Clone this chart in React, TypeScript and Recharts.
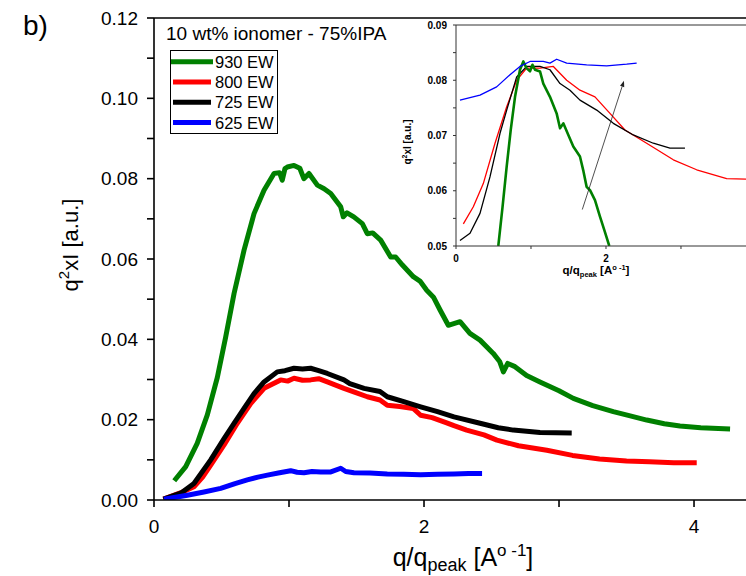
import { LineChart, Line, XAxis, YAxis, Legend, ReferenceLine } from 'recharts';

const FONT = '"Liberation Sans", Arial, Helvetica, sans-serif';

type Pt = [number, number];

// series labels + colours (legend order = draw order in the main plot)
const SERIES_NAMES = ['930 EW', '800 EW', '725 EW', '625 EW'];
const SERIES_COLORS = ['#008000', '#ff0000', '#000000', '#0000ff'];

const MAIN_X_TICKS = [0, 1, 2, 3, 4];
const MAIN_Y_TICKS = [0, 0.01, 0.02, 0.03, 0.04, 0.05, 0.06, 0.07, 0.08, 0.09, 0.1, 0.11, 0.12];
const INSET_X_TICKS = [0, 1, 2, 3];
const INSET_Y_TICKS = [0.05, 0.055, 0.06, 0.065, 0.07, 0.075, 0.08, 0.085, 0.09];

// main plot, [q/qpeak, q^2 x I]
const MAIN_930: Pt[] = [
  [0.15, 0.0048], [0.235, 0.0083], [0.32, 0.0141], [0.395, 0.0212], [0.469, 0.0305],
  [0.531, 0.0406], [0.593, 0.0514], [0.667, 0.0622], [0.741, 0.0713], [0.815, 0.0771],
  [0.889, 0.0813], [0.93, 0.0815], [0.95, 0.0796], [0.97, 0.0825], [0.988, 0.0829],
  [1.037, 0.0833], [1.08, 0.0826], [1.11, 0.08], [1.148, 0.0813], [1.21, 0.0784],
  [1.26, 0.0775], [1.309, 0.0763], [1.383, 0.073], [1.402, 0.0705], [1.43, 0.0715],
  [1.48, 0.0705], [1.543, 0.0688], [1.58, 0.0663], [1.62, 0.0665], [1.679, 0.0647],
  [1.753, 0.0605], [1.79, 0.0605], [1.84, 0.0585], [1.921, 0.0556], [1.97, 0.0545],
  [2.02, 0.0522], [2.07, 0.0505], [2.119, 0.0473], [2.18, 0.0435], [2.267, 0.0444],
  [2.34, 0.0415], [2.415, 0.0398], [2.513, 0.0365], [2.56, 0.0345], [2.588, 0.0319],
  [2.62, 0.034], [2.674, 0.0332], [2.76, 0.031], [2.859, 0.0294], [3.0, 0.0272],
  [3.106, 0.0253], [3.25, 0.0235], [3.402, 0.022], [3.52, 0.021], [3.65, 0.0199],
  [3.78, 0.019], [3.896, 0.0184], [4.05, 0.018], [4.267, 0.0177],
];

const MAIN_800: Pt[] = [
  [0.07, 0.0002], [0.15, 0.0012], [0.22, 0.0021], [0.296, 0.0033], [0.36, 0.0057],
  [0.42, 0.0087], [0.519, 0.0137], [0.617, 0.0191], [0.716, 0.024], [0.815, 0.0278],
  [0.938, 0.0299], [0.99, 0.0296], [1.037, 0.0303], [1.1, 0.0298], [1.16, 0.0299],
  [1.22, 0.0302], [1.284, 0.0294], [1.407, 0.0278], [1.49, 0.0268], [1.58, 0.0257],
  [1.674, 0.0249], [1.728, 0.0236], [1.82, 0.0233], [1.92, 0.0228], [1.975, 0.0211],
  [2.06, 0.0205], [2.168, 0.0192], [2.222, 0.0185], [2.316, 0.0174], [2.444, 0.0162],
  [2.54, 0.0149], [2.7, 0.0135], [2.91, 0.0124], [3.1, 0.0111], [3.3, 0.0102],
  [3.5, 0.0097], [3.67, 0.0095], [3.85, 0.0093], [4.02, 0.0093],
];

const MAIN_725: Pt[] = [
  [0.07, 0.0002], [0.198, 0.0017], [0.296, 0.0041], [0.42, 0.01], [0.519, 0.0153],
  [0.593, 0.0191], [0.667, 0.0228], [0.741, 0.0265], [0.815, 0.0294], [0.913, 0.0319],
  [0.97, 0.0322], [1.037, 0.0328], [1.1, 0.0326], [1.16, 0.0328], [1.22, 0.0322],
  [1.284, 0.0315], [1.407, 0.0299], [1.45, 0.029], [1.556, 0.0278], [1.674, 0.027],
  [1.728, 0.0257], [1.85, 0.0245], [1.975, 0.0232], [2.1, 0.022], [2.222, 0.0207],
  [2.415, 0.0191], [2.55, 0.018], [2.661, 0.0174], [2.859, 0.0168], [3.094, 0.0167],
];

const MAIN_625: Pt[] = [
  [0.074, 0.0002], [0.16, 0.0007], [0.247, 0.0012], [0.37, 0.002], [0.494, 0.0029],
  [0.6, 0.0041], [0.691, 0.005], [0.77, 0.0057], [0.84, 0.0062], [0.93, 0.0068],
  [1.012, 0.0073], [1.06, 0.0069], [1.111, 0.0068], [1.17, 0.0071], [1.235, 0.007],
  [1.31, 0.007], [1.383, 0.0079], [1.42, 0.0071], [1.481, 0.0068], [1.6, 0.0067],
  [1.728, 0.0065], [1.85, 0.0064], [1.975, 0.0063], [2.1, 0.0064], [2.222, 0.0065],
  [2.33, 0.0066], [2.43, 0.0066],
];

// inset (rescaled curves)
const INSET_930: Pt[] = [
  [0.564, 0.05], [0.62, 0.057], [0.676, 0.0644], [0.73, 0.071], [0.787, 0.077],
  [0.853, 0.0819], [0.898, 0.0834], [0.94, 0.0822], [0.987, 0.0816], [1.02, 0.0828],
  [1.053, 0.0819], [1.12, 0.0816], [1.164, 0.0794], [1.253, 0.077], [1.342, 0.074],
  [1.387, 0.0713], [1.431, 0.0722], [1.498, 0.0701], [1.564, 0.068], [1.653, 0.0662],
  [1.7, 0.0635], [1.742, 0.0607], [1.787, 0.0601], [1.853, 0.0583], [1.92, 0.0553],
  [1.98, 0.0528], [2.044, 0.05],
];

const INSET_800: Pt[] = [
  [0.098, 0.054], [0.231, 0.0571], [0.364, 0.0613], [0.52, 0.0686], [0.676, 0.0752],
  [0.809, 0.08], [0.942, 0.0822], [1.12, 0.0822], [1.298, 0.0825], [1.476, 0.08],
  [1.653, 0.0782], [1.853, 0.077], [2.053, 0.074], [2.253, 0.071], [2.542, 0.0686],
  [2.898, 0.0656], [3.209, 0.0638], [3.609, 0.0622], [3.867, 0.0621],
];

const INSET_725: Pt[] = [
  [0.053, 0.051], [0.187, 0.0523], [0.32, 0.0559], [0.453, 0.0625], [0.587, 0.0704],
  [0.676, 0.0746], [0.809, 0.0806], [0.942, 0.0825], [1.12, 0.0825], [1.253, 0.0819],
  [1.387, 0.0794], [1.52, 0.0782], [1.653, 0.0764], [1.876, 0.0746], [2.098, 0.0722],
  [2.364, 0.0701], [2.631, 0.0686], [2.853, 0.0677], [3.053, 0.0677],
];

const INSET_625: Pt[] = [
  [0.053, 0.0764], [0.32, 0.0773], [0.542, 0.0788], [0.72, 0.081], [0.853, 0.0825],
  [0.987, 0.0834], [1.164, 0.0834], [1.253, 0.0831], [1.342, 0.0838], [1.476, 0.0831],
  [1.742, 0.0828], [2.009, 0.0826], [2.276, 0.0829], [2.409, 0.0831],
];

const INSET_ARROW = [{ x: 1.684, y: 0.0566 }, { x: 2.24, y: 0.0799 }];

const rows = (pts: Pt[]) => pts.map(([q, v]) => ({ q, v }));

const MAIN = [MAIN_930, MAIN_800, MAIN_725, MAIN_625];
const INSET = [INSET_930, INSET_800, INSET_725, INSET_625];
const INSET_ORDER = [1, 2, 0, 3];

const tickStyle = { fill: '#000', fontSize: 19, fontFamily: FONT };
const insetTick = { fill: '#000', fontSize: 10, fontWeight: 'bold', fontFamily: FONT };
const axisStroke = { stroke: '#000', strokeWidth: 1.6 };

function Arrow(p: any) {
  const { x1, y1, x2, y2 } = p;
  const a = Math.atan2(y2 - y1, x2 - x1);
  const L = 6;
  const W = 2.2;
  const bx = x2 - L * Math.cos(a);
  const by = y2 - L * Math.sin(a);
  const pts = `${x2},${y2} ${bx - W * Math.sin(a)},${by + W * Math.cos(a)} ${bx + W * Math.sin(a)},${by - W * Math.cos(a)}`;
  return (
    <g>
      <line x1={x1} y1={y1} x2={bx} y2={by} stroke="#222" strokeWidth={0.8} />
      <polygon points={pts} fill="#222" />
    </g>
  );
}

function renderLegend() {
  return (
    <svg width={260} height={140} style={{ overflow: 'visible', display: 'block' }}>
      <text x={16} y={30} fontSize={19} fontFamily={FONT} fill="#000">
        10 wt% ionomer - 75%IPA
      </text>
      <rect x={20.5} y={40.5} width={107} height={83} fill="none" stroke="#000" strokeWidth={1} />
      {SERIES_NAMES.map((name, i) => (
        <g key={name}>
          <line
            x1={i === 0 ? 21 : 23}
            x2={i === 0 ? 63 : 61}
            y1={51.7 + i * 20.3}
            y2={51.7 + i * 20.3}
            stroke={SERIES_COLORS[i]}
            strokeWidth={5}
          />
          <text x={65} y={51.7 + i * 20.3 + 6} fontSize={16.5} fontFamily={FONT} fill="#000">
            {name}
          </text>
        </g>
      ))}
    </svg>
  );
}

export default function App() {
  return (
    <div style={{ position: 'absolute', left: 0, top: 0, width: 746, height: 576, background: '#fff' }}>
      {/* main chart */}
      <div style={{ position: 'absolute', left: 0, top: 0 }}>
        <LineChart width={746} height={576} margin={{ top: 18, right: 0, bottom: 0, left: 0 }}>
          <XAxis
            dataKey="q"
            type="number"
            domain={[0, 4.385]}
            allowDataOverflow
            ticks={MAIN_X_TICKS}
            interval={0}
            tickFormatter={(v: number) => (v % 2 === 0 ? String(v) : '')}
            tick={tickStyle}
            tickSize={7}
            tickMargin={13}
            height={76}
            axisLine={axisStroke}
            tickLine={axisStroke}
            label={() => (
              <text x={463} y={566} textAnchor="middle" fontSize={25} fontFamily={FONT} fill="#000">
                q/q<tspan fontSize={18} dy={5}>peak</tspan>
                <tspan dy={-5}> [A</tspan>
                <tspan fontSize={17} dy={-10}>o -1</tspan>
                <tspan dy={10}>]</tspan>
              </text>
            )}
          />
          <YAxis
            type="number"
            domain={[0, 0.12]}
            allowDataOverflow
            ticks={MAIN_Y_TICKS}
            interval={0}
            tickFormatter={(v: number) => (Math.round(v * 100) % 2 === 0 ? v.toFixed(2) : '')}
            tick={tickStyle}
            tickSize={7}
            tickMargin={9}
            width={154}
            axisLine={axisStroke}
            tickLine={axisStroke}
            label={() => (
              <g>
                <text x={23} y={35} fontSize={28} fontFamily={FONT} fill="#000">
                  b)
                </text>
                <text
                  transform="translate(78,245) rotate(-90)"
                  textAnchor="middle"
                  fontSize={22}
                  fontFamily={FONT}
                  fill="#000"
                >
                  q<tspan fontSize={15} dy={-9}>2</tspan>
                  <tspan dy={9}>xI [a.u.]</tspan>
                </text>
              </g>
            )}
          />
          <ReferenceLine y={0.12} stroke="#000" strokeWidth={1.6} />
          {MAIN.map((pts, i) => (
            <Line
              key={SERIES_NAMES[i]}
              data={rows(pts)}
              dataKey="v"
              name={SERIES_NAMES[i]}
              type="linear"
              stroke={SERIES_COLORS[i]}
              strokeWidth={5}
              strokeLinejoin="round"
              dot={false}
              isAnimationActive={false}
            />
          ))}
          <Legend
            layout="horizontal"
            align="center"
            verticalAlign="middle"
            content={renderLegend}
            wrapperStyle={{ position: 'absolute', left: 150, top: 10, width: 260, height: 140 }}
          />
        </LineChart>
      </div>

      {/* inset */}
      <div style={{ position: 'absolute', left: 380, top: 0 }}>
        <LineChart width={366} height={290} margin={{ top: 25, right: 0, bottom: 0, left: 0 }}>
          <XAxis
            dataKey="q"
            type="number"
            domain={[0, 3.867]}
            allowDataOverflow
            ticks={INSET_X_TICKS}
            interval={0}
            tickFormatter={(v: number) => (v % 2 === 0 ? String(v) : '')}
            tick={insetTick}
            tickSize={3}
            tickMargin={6}
            height={44}
            axisLine={{ stroke: '#333', strokeWidth: 1 }}
            tickLine={{ stroke: '#333', strokeWidth: 1 }}
            label={() => (
              <text x={216} y={274} textAnchor="middle" fontSize={11.5} fontWeight="bold" fontFamily={FONT} fill="#000">
                q/q<tspan fontSize={7.5} dy={2.5}>peak</tspan>
                <tspan dy={-2.5}> [A</tspan>
                <tspan fontSize={7.5} dy={-4}>o -1</tspan>
                <tspan dy={4}>]</tspan>
              </text>
            )}
          />
          <YAxis
            type="number"
            domain={[0.05, 0.09]}
            allowDataOverflow
            ticks={INSET_Y_TICKS}
            interval={0}
            tickFormatter={(v: number) => (Math.round(v * 1000) % 10 === 0 ? v.toFixed(2) : '')}
            tick={insetTick}
            tickSize={3}
            tickMargin={6}
            width={76}
            axisLine={{ stroke: '#333', strokeWidth: 1 }}
            tickLine={{ stroke: '#333', strokeWidth: 1 }}
            label={() => (
              <text
                transform="translate(31,142) rotate(-90)"
                textAnchor="middle"
                fontSize={10}
                fontWeight="bold"
                fontFamily={FONT}
                fill="#000"
              >
                q<tspan fontSize={7} dy={-4}>2</tspan>
                <tspan dy={4}>xI [a.u.]</tspan>
              </text>
            )}
          />
          <ReferenceLine y={0.09} stroke="#333" strokeWidth={1} />
          {INSET_ORDER.map((i) => (
            <Line
              key={SERIES_NAMES[i]}
              data={rows(INSET[i])}
              dataKey="v"
              name={SERIES_NAMES[i]}
              type="linear"
              stroke={SERIES_COLORS[i]}
              strokeWidth={i === 0 ? 2.6 : 1.3}
              strokeLinejoin="round"
              dot={false}
              isAnimationActive={false}
            />
          ))}
          <ReferenceLine segment={INSET_ARROW} shape={Arrow} />
        </LineChart>
      </div>
    </div>
  );
}
